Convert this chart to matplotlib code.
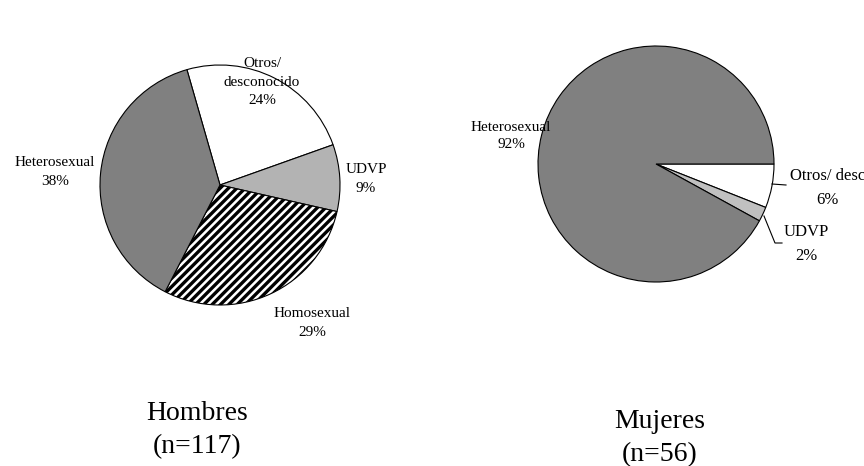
import matplotlib
matplotlib.use("Agg")
import matplotlib.pyplot as plt

plt.rcParams['font.family'] = ['Liberation Serif', 'DejaVu Serif']
plt.rcParams['hatch.linewidth'] = 2.4

## Hombres (n=117)
h_labels = ['Otros/\ndesconocido', 'UDVP', 'Homosexual', 'Heterosexual']
h_values = [24, 9, 29, 38]
h_colors = ['white', '#b3b3b3', 'white', '#808080']
h_hatch = [None, None, '////', None]

## Mujeres (n=56)
m_labels = ['Otros/ desconocido', 'UDVP', 'Heterosexual']
m_values = [6, 2, 92]
m_colors = ['white', '#c0c0c0', '#808080']

titles = ['Hombres\n(n=117)', 'Mujeres\n(n=56)']

W, H = 864, 466
fig = plt.figure(figsize=(W/100, H/100), dpi=100)
ax = fig.add_axes([0, 0, 1, 1])

def py(y):
    # pixel row (from top) -> data y
    return H - y

wedges, _ = ax.pie(h_values, colors=h_colors, startangle=106, counterclock=False,
                   center=(220, py(185)), radius=120,
                   wedgeprops=dict(edgecolor='black', linewidth=0.8))
for w, ht in zip(wedges, h_hatch):
    if ht:
        w.set_hatch(ht)

ax.pie(m_values, colors=m_colors, startangle=0, counterclock=False,
       center=(656, py(164)), radius=118,
       wedgeprops=dict(edgecolor='black', linewidth=0.8))

fs = 11
# left pie labels
h_pos = [(262, 82), (366, 179), (312, 323), (55, 172)]
for lab, v, (x, y) in zip(h_labels, h_values, h_pos):
    ax.text(x, py(y), '%s\n%d%%' % (lab, v), ha='center', va='center',
            fontsize=fs, linespacing=1.55)

# right pie labels (first one runs past the right edge, as in the original)
ax.text(790, py(176), m_labels[0], ha='left', va='center', fontsize=12)
ax.text(827, py(200), '%d%%' % m_values[0], ha='center', va='center', fontsize=12)
ax.text(806, py(244), '%s\n%d%%' % (m_labels[1], m_values[1]), ha='center', va='center',
        fontsize=12, linespacing=1.7)
ax.text(511, py(136), '%s\n%d%%' % (m_labels[2], m_values[2]), ha='center', va='center',
        fontsize=11, linespacing=1.45)

# leader lines
ax.plot([772, 786], [py(184), py(185)], color='black', lw=0.8)
ax.plot([764, 775, 782], [py(216), py(243), py(243)], color='black', lw=0.8)

# group titles
ax.text(197, py(430), titles[0], ha='center', va='center', fontsize=20, linespacing=1.45)
ax.text(660, py(438), titles[1], ha='center', va='center', fontsize=20, linespacing=1.45)

ax.set_xlim(0, W)
ax.set_ylim(0, H)
ax.set_aspect('equal')
ax.axis('off')

fig.savefig('out.png', dpi=100, facecolor='white')
